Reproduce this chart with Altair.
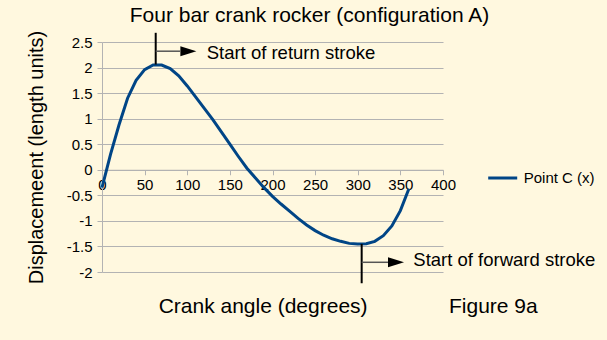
import altair as alt
import pandas as pd

FONT = "Liberation Sans"

# Curve: Point C (x) displacement vs crank angle
angles = [0, 10, 20, 30, 40, 50, 60, 70, 80, 90, 100, 110, 120, 130, 140, 150, 160, 170, 180,
          190, 200, 210, 220, 230, 240, 250, 260, 270, 280, 290, 300, 310, 320, 330, 340, 350, 360]
disp = [-0.35, 0.30, 0.88, 1.40, 1.75, 1.96, 2.05, 2.05, 1.98, 1.84, 1.64, 1.42, 1.20, 0.98, 0.74,
        0.50, 0.26, 0.03, -0.16, -0.35, -0.52, -0.67, -0.81, -0.95, -1.08, -1.19, -1.28, -1.35,
        -1.40, -1.44, -1.45, -1.445, -1.40, -1.29, -1.10, -0.80, -0.37]
series_name = "Point C (x)"

x_ticks = [0, 50, 100, 150, 200, 250, 300, 350, 400]
y_ticks = [-2, -1.5, -1, -0.5, 0, 0.5, 1, 1.5, 2, 2.5]

# Annotations (data coordinates)
ann_text = ["Start of return stroke", "Start of forward stroke"]
ann_text_x = [122.8, 365.2]
ann_text_y = [2.16, -1.88]
vline_x = [63, 304.6]
vline_y1 = [2.06, -1.45]
vline_y2 = [2.68, -2.22]
hline_x1 = [63, 304.6]
hline_x2 = [91.5, 335.8]
hline_y = [2.32, -1.81]
arrow_x = [101.3, 344.9]
arrow_y = [2.32, -1.81]
fig_label = ["Figure 9a"]
fig_label_x = [407]
fig_label_y = [-2.80]

W, H = 341, 230
y_min, y_max = -2, 2.5

curve = pd.DataFrame({"x": angles, "y": disp, "series": [series_name] * len(angles)})
vlines = pd.DataFrame({"x": vline_x, "y": vline_y1, "y2": vline_y2})
hlines = pd.DataFrame({"x": hline_x1, "x2": hline_x2, "y": hline_y})
arrows = pd.DataFrame({"x": arrow_x, "y": arrow_y})
texts = pd.DataFrame({"x": ann_text_x, "y": ann_text_y, "t": ann_text})
figs = pd.DataFrame({"x": fig_label_x, "y": fig_label_y, "t": fig_label})

xs = alt.Scale(domain=[0, 400], nice=False, zero=False)
ys = alt.Scale(domain=[y_min, y_max], nice=False, zero=False)

grey = "#b3b3b3"
xaxis = alt.Axis(
    values=x_ticks, grid=False, offset=-H * (0 - y_min) / (y_max - y_min),
    domainColor=grey, tickColor=grey, tickSize=5, labelFontSize=15, labelFont=FONT,
    labelColor="black", labelPadding=3, labelFlush=False, labelOverlap=False,
    title="Crank angle (degrees)", titleX=160.6, titleY=143, titleBaseline="alphabetic",
    titleAlign="center", titleFontSize=21, titleFont=FONT, titleFontWeight="normal",
    titleColor="black",
)
yaxis = alt.Axis(
    values=y_ticks, grid=True, gridColor=grey, domainColor=grey, tickColor=grey, tickSize=5,
    labelFontSize=15, labelFont=FONT, labelColor="black", labelPadding=5,
    labelExpr="toString(datum.value)", labelOverlap=False,
    title="Displacemeent (length units)", titleX=-66, titleY=H / 2, titleBaseline="middle",
    titleAlign="center", titleFontSize=20, titleFont=FONT, titleFontWeight="normal",
    titleColor="black",
)

X = alt.X("x:Q", scale=xs, axis=xaxis)
Y = alt.Y("y:Q", scale=ys, axis=yaxis)

line = alt.Chart(curve).mark_line(strokeWidth=3).encode(
    x=X, y=Y,
    color=alt.Color("series:N", scale=alt.Scale(range=["#004586"]),
                    legend=alt.Legend(title=None, orient="none", legendX=384.7, legendY=120,
                                      symbolType="stroke", symbolSize=841, symbolStrokeWidth=3,
                                      labelFontSize=15, labelFont=FONT, labelColor="black",
                                      labelOffset=5, padding=0)),
)

vrules = alt.Chart(vlines).mark_rule(color="black", strokeWidth=2).encode(
    x=X, y=Y, y2=alt.Y2("y2:Q"))
hrules = alt.Chart(hlines).mark_rule(color="#555555", strokeWidth=1.5).encode(
    x=X, x2=alt.X2("x2:Q"), y=Y)
heads = alt.Chart(arrows).mark_point(
    shape="M -1 -0.625 L 1 0 L -1 0.625 Z", size=256, filled=True, color="black", opacity=1
).encode(x=X, y=Y)
labels = alt.Chart(texts).mark_text(
    align="left", baseline="alphabetic", fontSize=18.5, font=FONT, color="black"
).encode(x=X, y=Y, text="t:N")
figlab = alt.Chart(figs).mark_text(
    align="left", baseline="alphabetic", fontSize=21, font=FONT, color="black"
).encode(x=X, y=Y, text="t:N")

chart = alt.layer(line, vrules, hrules, heads, labels, figlab).properties(
    width=W, height=H,
    autosize=alt.AutoSizeParams(type="none"),
    padding={"left": 102, "top": 42, "right": 164, "bottom": 68},
    title=alt.TitleParams("Four bar crank rocker (configuration A)", fontSize=21, font=FONT,
                          fontWeight="normal", color="black", anchor="middle", dx=37, offset=4),
).configure(background="#FFF8DF").configure_view(strokeWidth=0)

chart.save("out.html", embed_options={"renderer": "svg", "actions": False})
